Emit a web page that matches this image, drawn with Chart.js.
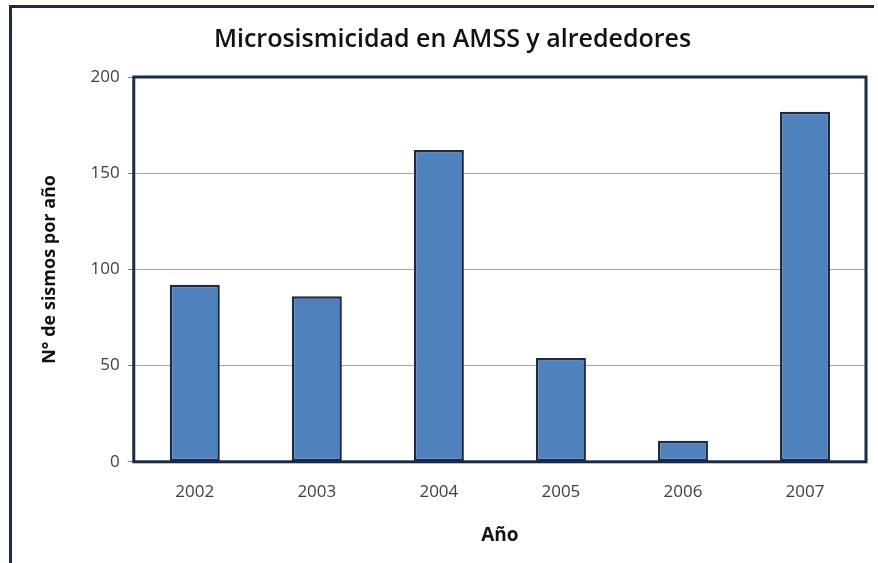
<!DOCTYPE html>
<html>
<head>
<meta charset="utf-8">
<script src="https://cdn.jsdelivr.net/npm/chart.js@4"></script>
<style>
  body { margin: 0; background: #ffffff; }
  #wrap { position: relative; width: 878px; height: 563px; }
  #frame {
    position: absolute; left: 9px; top: 5px; width: 862px; height: 570px;
    border-left: 3px solid #1c2b45; border-top: 3px solid #1c2b45;
  }
  canvas { position: absolute; left: 0; top: 0; }
</style>
</head>
<body>
<div id="wrap">
  <div id="frame"></div>
  <canvas id="chart" width="878" height="563"></canvas>
</div>
<script>
// Data
const years = ['2002', '2003', '2004', '2005', '2006', '2007'];
const sismos = [92, 86, 162, 54, 11, 182];
const yTicks = [0, 50, 100, 150, 200];

const fontFamily = "'Open Sans', 'DejaVu Sans', sans-serif";
const navy = '#1c2b45';

// Dark frame around the plot area
const plotBorder = {
    id: 'plotBorder',
    afterDatasetsDraw(chart) {
        const a = chart.chartArea;
        const ctx = chart.ctx;
        ctx.save();
        ctx.strokeStyle = navy;
        ctx.lineWidth = 3;
        ctx.strokeRect(a.left, a.top, a.right - a.left, a.bottom - a.top);
        ctx.restore();
    }
};

const ctx = document.getElementById('chart').getContext('2d');
new Chart(ctx, {
    type: 'bar',
    data: {
        labels: years,
        datasets: [{
            data: sismos,
            backgroundColor: '#4f81bd',
            borderColor: navy,
            borderWidth: 2.5,
            borderSkipped: false,
            barPercentage: 0.82,
            categoryPercentage: 0.5
        }]
    },
    options: {
        responsive: false,
        animation: false,
        layout: {
            padding: { left: 39, right: 12, top: 14, bottom: 16 }
        },
        plugins: {
            legend: { display: false },
            tooltip: { enabled: false },
            title: {
                display: true,
                text: 'Microsismicidad en AMSS y alrededores',
                color: '#111111',
                font: { family: fontFamily, size: 25, weight: '600' },
                padding: { top: 11, bottom: 22 }
            }
        },
        scales: {
            x: {
                grid: { display: false },
                border: { display: false },
                ticks: {
                    color: '#404040',
                    font: { family: fontFamily, size: 17 },
                    padding: 12
                },
                title: {
                    display: true,
                    text: 'Año',
                    color: '#111111',
                    font: { family: fontFamily, size: 19, weight: 'bold' },
                    padding: { top: 10, bottom: 0 }
                }
            },
            y: {
                min: 0,
                max: 200,
                afterBuildTicks(axis) {
                    axis.ticks = yTicks.map(v => ({ value: v }));
                },
                grid: {
                    color: '#a6a6a6',
                    lineWidth: 1,
                    tickLength: 6,
                    tickColor: '#808080'
                },
                border: { display: false },
                ticks: {
                    color: '#404040',
                    font: { family: fontFamily, size: 17 },
                    padding: 8
                },
                title: {
                    display: true,
                    text: 'N° de sismos por año',
                    color: '#111111',
                    font: { family: fontFamily, size: 18, weight: 'bold' },
                    padding: { top: 0, bottom: 22 }
                }
            }
        }
    },
    plugins: [plotBorder]
});
</script>
</body>
</html>
